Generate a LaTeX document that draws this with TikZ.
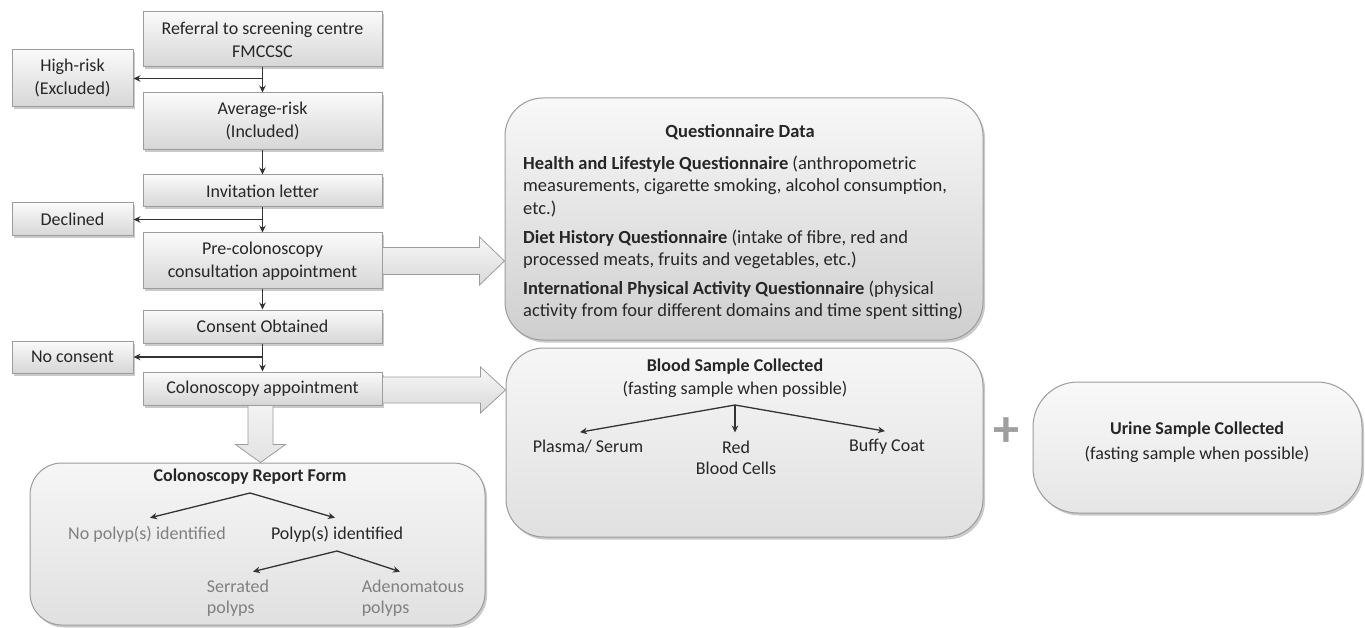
\documentclass[tikz,border=0pt]{standalone}
\usepackage{fontspec}
\setmainfont{Carlito}
\usetikzlibrary{shadows,calc,arrows.meta}
\definecolor{bordc}{HTML}{9C9C9C}
\definecolor{txt}{HTML}{262626}
\definecolor{lgray}{HTML}{808080}
\tikzset{
  base/.style={draw=bordc, line width=1pt, inner sep=0pt, align=center, text=txt,
    drop shadow={shadow xshift=2pt, shadow yshift=-2.5pt, opacity=0.35, fill=black!60}},
  sbox/.style={base, top color=gray!4, bottom color=gray!32, font=\fontsize{18}{23}\selectfont},
  rbox/.style={base, rounded corners=38pt, top color=gray!7, bottom color=gray!24},
  conn/.style={-{Stealth[length=7pt,width=6.5pt]}, line width=1.4pt, draw=black!80},
  iconn/.style={-{Stealth[length=7pt,width=6.5pt]}, line width=1.3pt, draw=black!80},
  fat/.style={draw=bordc, line width=0.8pt, top color=gray!6, bottom color=gray!30},
  lbl/.style={font=\fontsize{18}{23}\selectfont, text=txt, align=center, inner sep=0pt},
  glbl/.style={lbl, text=lgray},
}
\begin{document}
\begin{tikzpicture}[x=1pt,y=-1pt]
\useasboundingbox (0,0) rectangle (1365,628);
% left flow
\node[sbox, minimum width=239pt, minimum height=55pt] (ref) at (262.5,39.5) {Referral to screening centre\\FMCCSC};
\node[sbox, minimum width=121pt, minimum height=57pt] (high) at (72.5,78.5) {High-risk\\(Excluded)};
\node[sbox, minimum width=239pt, minimum height=57pt] (avg) at (262.5,121.5) {Average-risk\\(Included)};
\node[sbox, minimum width=239pt, minimum height=32pt] (inv) at (262.5,191) {Invitation letter};
\node[sbox, minimum width=121pt, minimum height=33pt] (dec) at (72.5,219.5) {Declined};
\node[sbox, minimum width=239pt, minimum height=56pt] (pre) at (262.5,261) {Pre-colonoscopy\\consultation appointment};
\node[sbox, minimum width=239pt, minimum height=33pt] (cons) at (262.5,326.5) {Consent Obtained};
\node[sbox, minimum width=121pt, minimum height=32pt] (nocons) at (72.5,357) {No consent};
\node[sbox, minimum width=239pt, minimum height=33pt] (colon) at (262.5,388.5) {Colonoscopy appointment};

\draw[conn] (ref.south) -- (avg.north);
\draw[conn] (ref.south |- high.east) -- (high.east);
\draw[conn] (avg.south) -- (inv.north);
\draw[conn] (inv.south) -- (pre.north);
\draw[conn] (inv.south |- dec.east) -- (dec.east);
\draw[conn] (pre.south) -- (cons.north);
\draw[conn] (cons.south) -- (colon.north);
\draw[conn] (cons.south |- nocons.east) -- (nocons.east);

% big boxes
\node[rbox, rounded corners=32pt, minimum width=455pt, minimum height=162pt] (rep) at (257.5,544) {};
\node[rbox, top color=gray!5, bottom color=gray!38, minimum width=478pt, minimum height=242pt] (quest) at (744,219) {};
\node[rbox, minimum width=477pt, minimum height=189pt] (blood) at (744.5,442.5) {};
\node[rbox, rounded corners=45pt, top color=gray!5, bottom color=gray!20, minimum width=329pt, minimum height=131pt] (urine) at (1197.5,447.5) {};

% fat arrows
\coordinate (t1) at (quest.west |- pre.east);
\draw[fat] ($(pre.east)+(0,-13.5)$) -- ($(t1)+(-25,-13.5)$) -- ($(t1)+(-25,-24)$) -- (t1)
  -- ($(t1)+(-25,24)$) -- ($(t1)+(-25,13.5)$) -- ($(pre.east)+(0,13.5)$) -- cycle;
\coordinate (t2) at ($(blood.west |- colon.east)+(0,1.5)$);
\draw[fat] ($(colon.east)+(0,-11.5)$) -- ($(t2)+(-25,-13)$) -- ($(t2)+(-25,-23)$) -- (t2)
  -- ($(t2)+(-25,23)$) -- ($(t2)+(-25,13)$) -- ($(colon.east)+(0,14.5)$) -- cycle;
\coordinate (t3) at ($(colon.south |- rep.north)+(-2,0)$);
\draw[fat, top color=gray!10, bottom color=gray!22] ($(colon.south)+(-14.5,0)$) -- ($(t3)+(-12.5,-18)$) -- ($(t3)+(-25,-18)$) -- (t3)
  -- ($(t3)+(25,-18)$) -- ($(t3)+(12.5,-18)$) -- ($(colon.south)+(10.5,0)$) -- cycle;

% report contents
\node[lbl, font=\fontsize{18}{23}\selectfont\bfseries] (rt) at (250,477) {Colonoscopy Report Form};
\coordinate (r0) at (250,493);
\node[glbl] (np) at (147,534) {No polyp(s) identified};
\node[lbl] (py) at (337,534) {Polyp(s) identified};
\draw[iconn] (r0) -- ($(np.north)+(3,-8)$);
\draw[iconn] (r0) -- ($(py.north)+(-2,-8)$);
\coordinate (r1) at (337,551);
\node[glbl, align=left, font=\fontsize{18}{21}\selectfont] (ser) at (238,598) {Serrated\\polyps};
\node[glbl, align=left, font=\fontsize{18}{21}\selectfont] (ade) at (413,598) {Adenomatous\\polyps};
\draw[iconn] (r1) -- ($(ser.north)+(15,-8)$);
\draw[iconn] (r1) -- ($(ade.north)+(-13,-8)$);

% questionnaire contents
\node[lbl, font=\fontsize{18.5}{22}\selectfont\bfseries] (qt) at (740,132) {Questionnaire Data};
\node[lbl, align=left, anchor=west, font=\fontsize{18.5}{22.5}\selectfont] (qb) at (523,238)
 {\textbf{Health and Lifestyle Questionnaire} (anthropometric\\
  measurements, cigarette smoking, alcohol consumption,\\
  etc.)\\[6.5pt]
  \textbf{Diet History Questionnaire} (intake of fibre, red and\\
  processed meats, fruits and vegetables, etc.)\\[6pt]
  \textbf{International Physical Activity Questionnaire} (physical\\
  activity from four different domains and time spent sitting)};

% blood contents
\node[lbl, font=\fontsize{18}{23}\selectfont] (bt) at (735,378.5) {\textbf{Blood Sample Collected}\\(fasting sample when possible)};
\coordinate (b0) at (735,405);
\node[lbl] (pl) at (588,447) {Plasma/ Serum};
\node[lbl, font=\fontsize{18}{21}\selectfont] (rbc) at (736,457.5) {Red\\Blood Cells};
\node[lbl] (bc) at (887,447) {Buffy Coat};
\draw[iconn] (b0) -- ($(pl.north)+(-8,-8)$);
\draw[iconn] (b0) -- ($(b0 |- rbc.north)+(0,-8)$);
\draw[iconn] (b0) -- ($(bc.north)+(-2,-8)$);

% plus and urine
\node[text=gray!75, font=\fontsize{52}{52}\selectfont\bfseries, inner sep=0pt] (plus) at (1006,432) {+};
\node[lbl, font=\fontsize{18}{25}\selectfont] (ut) at (1197,442) {\textbf{Urine Sample Collected}\\(fasting sample when possible)};
\end{tikzpicture}
\end{document}
